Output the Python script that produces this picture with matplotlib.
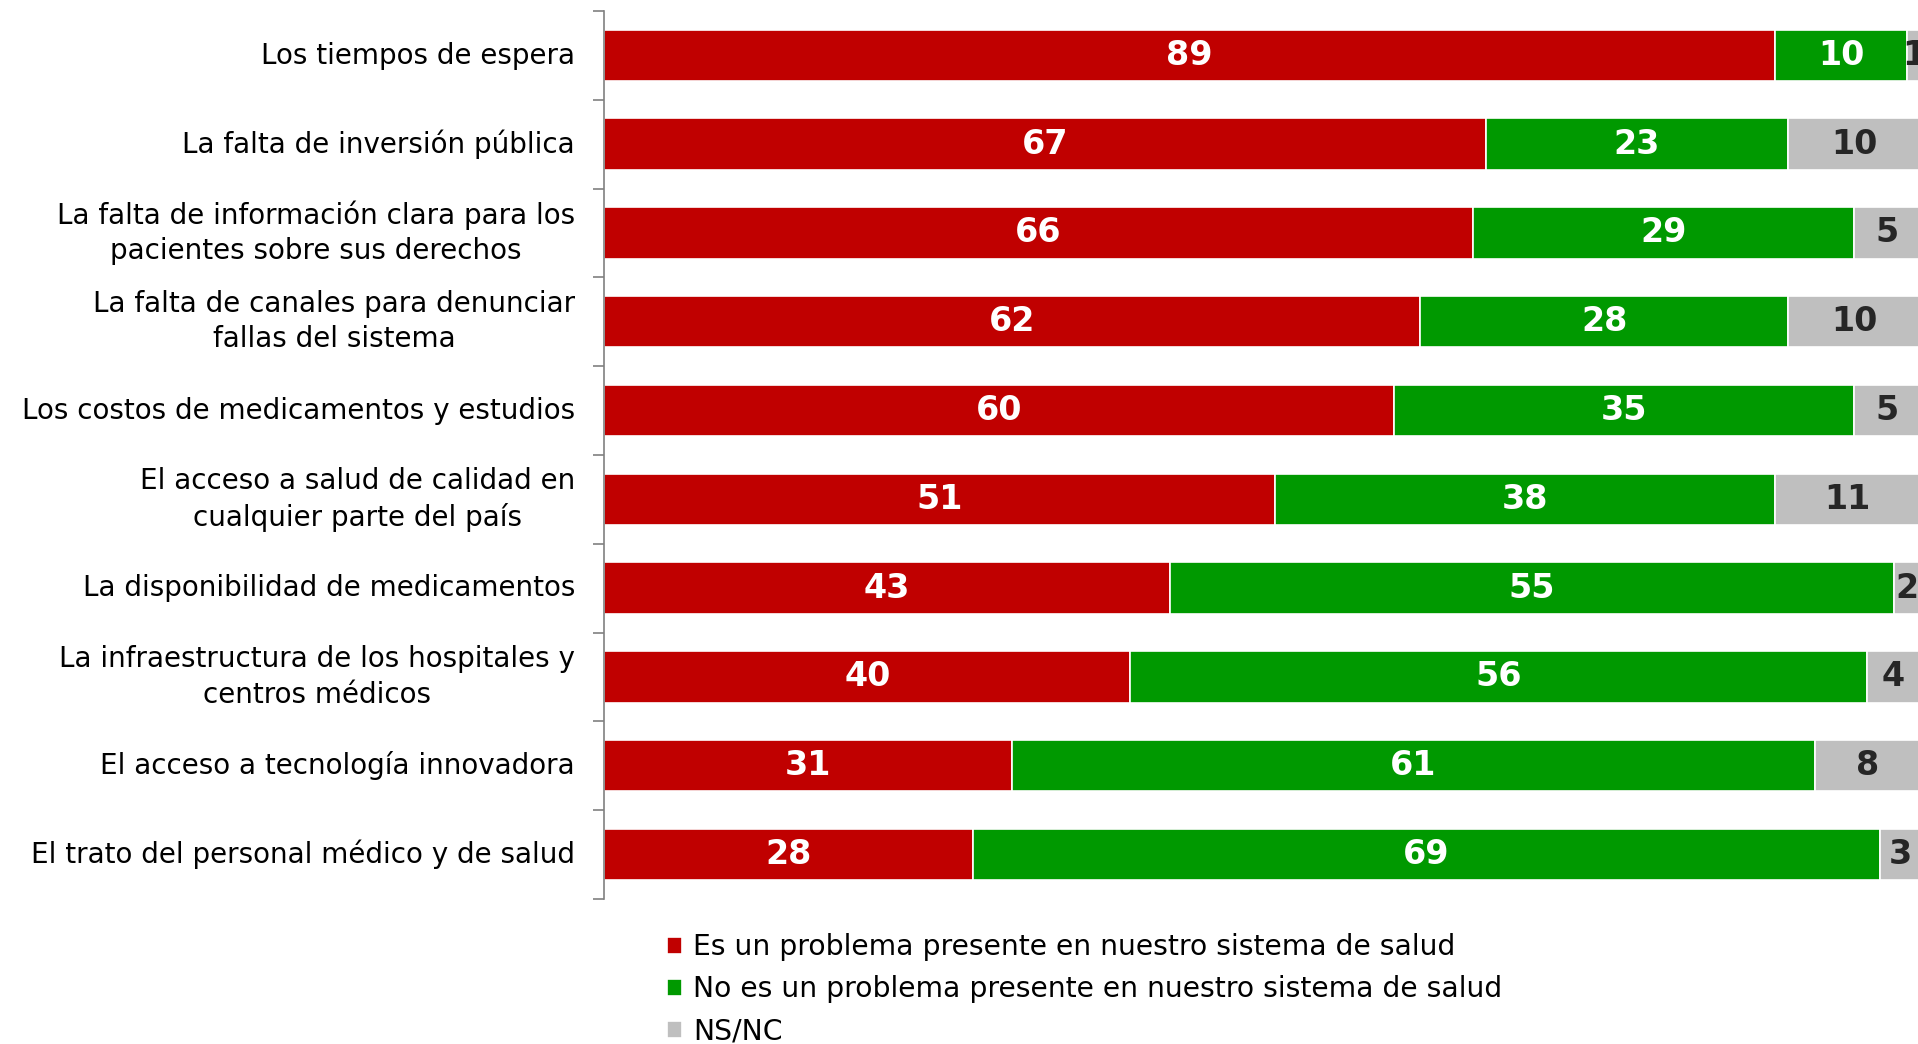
import matplotlib
matplotlib.use("Agg")
import matplotlib.pyplot as plt
import matplotlib.transforms as mtransforms
import numpy as np

# datos de la encuesta (porcentajes)
categorias = [
    "Los tiempos de espera",
    "La falta de inversión pública",
    "La falta de información clara para los\npacientes sobre sus derechos",
    "La falta de canales para denunciar\nfallas del sistema",
    "Los costos de medicamentos y estudios",
    "El acceso a salud de calidad en\ncualquier parte del país",
    "La disponibilidad de medicamentos",
    "La infraestructura de los hospitales y\ncentros médicos",
    "El acceso a tecnología innovadora",
    "El trato del personal médico y de salud",
]
es_problema = [89, 67, 66, 62, 60, 51, 43, 40, 31, 28]
no_es_problema = [10, 23, 29, 28, 35, 38, 55, 56, 61, 69]
ns_nc = [1, 10, 5, 10, 5, 11, 2, 4, 8, 3]

series = [
    ("Es un problema presente en nuestro sistema de salud", es_problema, "#C00000", "white"),
    ("No es un problema presente en nuestro sistema de salud", no_es_problema, "#009900", "white"),
    ("NS/NC", ns_nc, "#BFBFBF", "#262626"),
]

plt.rcParams['font.family'] = ['DejaVu Sans']

fig = plt.figure(figsize=(19.18, 10.44), dpi=100)
ax = fig.add_axes([0.315, 0.139, 0.686, 0.8505])

y = np.arange(len(categorias))
izq = np.zeros(len(categorias))
for nombre, valores, color, color_txt in series:
    valores = np.array(valores)
    barras = ax.barh(y, valores, left=izq, height=0.58, color=color,
                     edgecolor="white", linewidth=1.2, label=nombre)
    for b, v in zip(barras, valores):
        ax.text(b.get_x() + b.get_width() / 2, b.get_y() + b.get_height() / 2,
                str(v), ha="center", va="center", color=color_txt,
                fontsize=24, fontweight="bold")
    izq += valores

ax.set_xlim(0, 100)
ax.set_ylim(len(categorias) - 0.5, -0.5)

ax.set_yticks(y)
ax.set_yticklabels(categorias, fontsize=20, multialignment="center",
                   linespacing=1.35)
ax.tick_params(axis="y", which="major", length=0, pad=21)
ax.set_yticks(np.arange(-0.5, len(categorias)), minor=True)
ax.tick_params(axis="y", which="minor", length=8, width=1.2, color="#808080")
ax.set_xticks([])

# subir un poco las etiquetas para centrarlas con las barras
for etiqueta in ax.get_yticklabels():
    dy = 5 / 72 if "\n" in etiqueta.get_text() else 2 / 72
    etiqueta.set_transform(etiqueta.get_transform() +
                           mtransforms.ScaledTranslation(0, dy, fig.dpi_scale_trans))

for s in ["top", "right", "bottom"]:
    ax.spines[s].set_visible(False)
ax.spines["left"].set_color("#808080")
ax.spines["left"].set_linewidth(1.2)

fig.legend(loc="upper left", bbox_to_anchor=(0.3475, 0.106), frameon=False,
           fontsize=20.3, handlelength=0.55, handleheight=0.55, handletextpad=0.4,
           labelspacing=0.5, borderpad=0, borderaxespad=0)

fig.savefig("out.png", dpi=100)
